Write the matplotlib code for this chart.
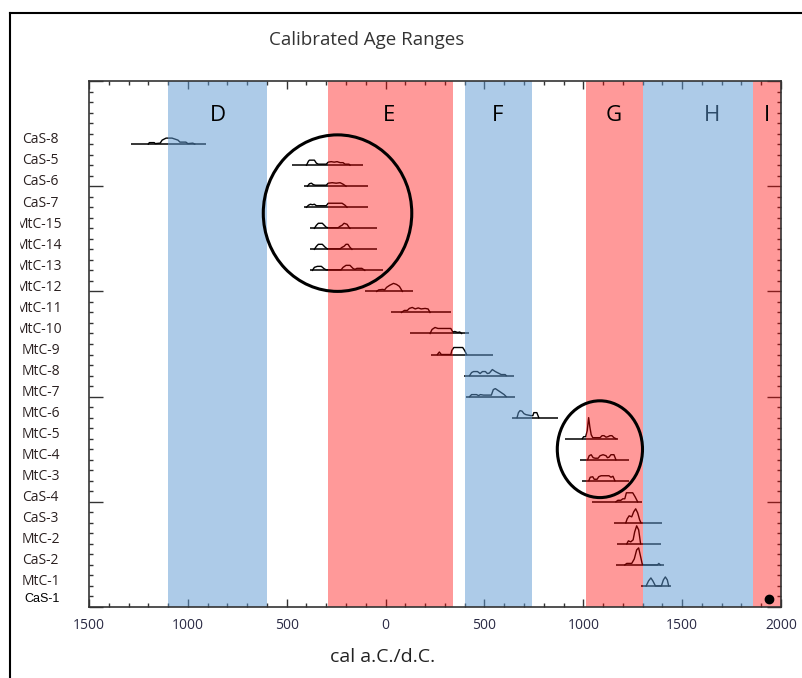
import numpy as np
import matplotlib.pyplot as plt
from matplotlib.patches import Ellipse, Rectangle
from matplotlib.lines import Line2D
from matplotlib.ticker import MultipleLocator, FixedLocator, FuncFormatter
import matplotlib.transforms as mtransforms

plt.rcParams['font.family'] = ['Open Sans', 'DejaVu Sans']

# samples, top to bottom
labels = ['CaS-8', 'CaS-5', 'CaS-6', 'CaS-7', 'MtC-15', 'MtC-14', 'MtC-13',
          'MtC-12', 'MtC-11', 'MtC-10', 'MtC-9', 'MtC-8', 'MtC-7', 'MtC-6',
          'MtC-5', 'MtC-4', 'MtC-3', 'CaS-4', 'CaS-3', 'MtC-2', 'CaS-2', 'MtC-1']

# calibrated range of each sample (negative = a.C.)
range_start = [-1286, -475, -411, -411, -383, -383, -383, -104, 28, 124, 229, 398,
               408, 639, 909, 985, 991, 1045, 1154, 1171, 1163, 1290]
range_end = [-906, -112, -90, -87, -42, -42, -13, 141, 330, 423, 541, 651,
             656, 870, 1174, 1230, 1230, 1295, 1396, 1391, 1408, 1443]

# probability outlines (year, relative height)
curves = [
    [(-1200, 0), (-1195, 1.5), (-1170, 1.5), (-1165, 0.5), (-1140, 1), (-1130, 4), (-1110, 6),
     (-1080, 6), (-1050, 4), (-1040, 2), (-1010, 2), (-1000, 0.5), (-975, 1), (-965, 0)],
    [(-400, 0), (-390, 4), (-385, 5), (-360, 5), (-350, 2), (-340, 1), (-300, 1), (-290, 3),
     (-275, 3.5), (-260, 3), (-245, 3.5), (-230, 2.5), (-215, 2.5), (-205, 1), (-185, 1), (-180, 0)],
    [(-395, 0), (-385, 2.5), (-375, 3), (-365, 1.5), (-355, 1), (-300, 1), (-290, 3), (-270, 3.5),
     (-250, 3), (-230, 3.5), (-215, 2), (-200, 0)],
    [(-400, 0), (-390, 2), (-380, 3), (-370, 2.5), (-360, 3), (-350, 1.5), (-300, 1.5), (-290, 4),
     (-220, 4), (-205, 2), (-195, 0)],
    [(-360, 0), (-350, 3), (-340, 5), (-320, 5), (-305, 2), (-300, 1), (-290, 0.5), (-240, 0.5),
     (-230, 2), (-220, 3), (-210, 5), (-195, 4), (-185, 1), (-180, 0)],
    [(-360, 0), (-350, 3), (-340, 5), (-320, 5), (-305, 2), (-295, 0.5), (-230, 0.5), (-220, 2),
     (-210, 3), (-200, 5), (-190, 5), (-180, 2), (-170, 0)],
    [(-370, 0), (-360, 3), (-345, 4), (-325, 4), (-310, 1.5), (-300, 0.5), (-225, 0.5), (-215, 3),
     (-200, 5), (-180, 5), (-165, 2), (-155, 1), (-145, 2), (-120, 2), (-105, 0)],
    [(-45, 0), (-35, 1.5), (-15, 2), (-5, 1.5), (5, 4), (20, 6), (40, 8), (55, 7), (70, 5), (85, 0)],
    [(80, 0), (95, 2), (110, 2), (120, 4), (135, 5), (150, 3.5), (165, 4.5), (180, 3.5), (200, 4),
     (215, 3.5), (225, 0)],
    [(225, 0), (235, 4), (250, 6), (265, 5), (330, 5), (340, 1.5), (350, 2), (365, 1), (375, 1.5),
     (385, 0)],
    [(262, 0), (272, 2.5), (282, 0), (330, 0), (335, 4), (345, 7), (390, 7), (400, 4), (410, 0)],
    [(425, 0), (435, 3), (445, 4), (465, 4), (478, 2), (490, 4), (505, 4), (515, 2), (525, 2.5),
     (540, 6), (555, 4), (570, 2.5), (585, 1), (605, 1), (610, 0)],
    [(425, 0), (435, 2), (460, 2), (470, 1), (480, 2), (495, 1.5), (535, 1.5), (545, 7), (555, 8),
     (570, 6), (585, 4), (600, 2), (610, 0)],
    [(665, 0), (672, 5), (680, 7), (690, 6.5), (700, 4), (710, 3), (735, 2), (745, 2), (750, 5),
     (765, 5), (775, 0)],
    [(995, 0), (1002, 2), (1012, 2), (1020, 8), (1027, 21), (1033, 12), (1040, 4), (1048, 1),
     (1085, 1), (1095, 3), (1105, 3), (1115, 1.5), (1125, 2), (1135, 3), (1145, 3), (1155, 1), (1165, 0)],
    [(1022, 0), (1030, 4), (1040, 5), (1050, 2), (1060, 1.5), (1075, 1.5), (1085, 4), (1100, 5),
     (1115, 4), (1122, 2), (1130, 2.5), (1140, 5), (1155, 5), (1165, 0)],
    [(1028, 0), (1035, 3.5), (1048, 4), (1055, 1.5), (1070, 1.5), (1078, 4), (1090, 5), (1130, 5),
     (1140, 3.5), (1150, 4.5), (1160, 0)],
    [(1165, 0), (1175, 1.5), (1190, 1.5), (1200, 3), (1210, 3), (1218, 9), (1250, 9), (1262, 5),
     (1275, 0)],
    [(1215, 0), (1222, 4), (1232, 7), (1245, 6), (1255, 11), (1265, 14), (1275, 10), (1285, 3),
     (1292, 0)],
    [(1220, 0), (1228, 3), (1240, 2), (1252, 4), (1260, 12), (1270, 18), (1280, 14), (1290, 0)],
    [(1210, 0), (1220, 1.5), (1245, 1.5), (1258, 6), (1270, 15), (1280, 17), (1288, 10), (1298, 1),
     (1305, 0), (1375, 0), (1382, 1.5), (1390, 0)],
    [(1318, 0), (1330, 5), (1342, 8), (1352, 5), (1365, 0), (1395, 0), (1405, 6), (1415, 9),
     (1425, 6), (1432, 0)],
]

# modern sample
modern_label = 'CaS-1'
modern_year = 1938

# period bands
band_letters = ['D', 'E', 'F', 'G', 'H', 'I']
band_start = [-1100, -290, 400, 1015, 1300, 1860]
band_end = [-600, 340, 740, 1300, 1860, 2000]
band_is_red = [False, True, False, True, False, True]
letter_x = [-850, 15, 565, 1155, 1650, 1930]

# highlighted groups (centre year, centre row, width in years, height in rows)
circle_x = [-243, 1084]
circle_row = [3.28, 14.5]
circle_w = [751, 431]
circle_h = [7.44, 4.6]

W, H = 802, 678
fig = plt.figure(figsize=(W / 100, H / 100), dpi=100)
ax = fig.add_axes([89 / W, 1 - 607 / H, 692 / W, 526 / H])
ax.set_xlim(-1500, 2000)
ax.set_ylim(22, -3)

dens_scale = 1 / 21.0
for i, lab in enumerate(labels):
    ax.plot([range_start[i], range_end[i]], [i, i], color='black', lw=1.1, zorder=1,
            solid_capstyle='butt')
    xs = [p[0] for p in curves[i]]
    hs = np.array([p[1] for p in curves[i]])
    ax.plot(xs, i - hs * dens_scale, color='black', lw=1.0, zorder=1)

modern_row = len(labels) - 0.4
ax.plot(modern_year, modern_row, 'o', color='black', ms=6, zorder=4)

for s, e, red in zip(band_start, band_end, band_is_red):
    if red:
        ax.axvspan(s, e, color='#ff0000', alpha=0.4, lw=0, zorder=2)
    else:
        ax.axvspan(s, e, color='#5d99d3', alpha=0.5, lw=0, zorder=2)

for x, letter in zip(letter_x, band_letters):
    z = 1 if letter == 'H' else 3
    ax.text(x, -1.38, letter, fontsize=16, ha='center', va='center', color='black', zorder=z)

for cx, cy, w, h in zip(circle_x, circle_row, circle_w, circle_h):
    ax.add_patch(Ellipse((cx, cy), w, h, fill=False, ec='black', lw=2.2, zorder=4))

# axes styling
ax.xaxis.set_major_locator(MultipleLocator(500))
ax.xaxis.set_minor_locator(MultipleLocator(100))
ax.yaxis.set_major_locator(FixedLocator(np.arange(-3, 23, 5)))
ax.yaxis.set_minor_locator(FixedLocator(np.arange(-3, 22.5, 0.5)))
ax.xaxis.set_major_formatter(FuncFormatter(lambda v, p: f'{abs(int(round(v)))}'))
ax.tick_params(which='both', direction='in', top=True, right=True, color='#333333', width=1.0)
ax.tick_params(axis='x', which='major', length=6, labelsize=10, labelcolor='#2b2b45', pad=8)
ax.tick_params(axis='y', which='major', length=10, labelleft=False)
ax.tick_params(which='minor', length=3)
for sp in ax.spines.values():
    sp.set_color('#333333')
    sp.set_linewidth(1.2)

# sample labels
trans = mtransforms.blended_transform_factory(fig.transFigure, ax.transData)
for i, lab in enumerate(labels):
    if len(lab) > 5 and lab.startswith('MtC'):
        ax.text(62 / W, i - 0.2, lab, transform=trans, ha='right', va='center',
                fontsize=10, color='#2a2020', clip_on=False)
    else:
        ax.text(22 / W, i - 0.2, lab, transform=trans, ha='left', va='center',
                fontsize=10, color='#2a2020', clip_on=False)
ax.text(24 / W, modern_row, modern_label, transform=trans, ha='left', va='center',
        fontsize=9, color='black', family='Liberation Sans', clip_on=False)

# crop of the long labels and outer frame
fig.add_artist(Rectangle((11 / W, 0), 7.5 / W, 1, transform=fig.transFigure,
                         color='white', zorder=5))
fig.add_artist(Line2D([10 / W, 10 / W], [0, 1 - 13 / H], transform=fig.transFigure,
                      color='black', lw=1.5, zorder=6))
fig.add_artist(Line2D([10 / W, 1], [1 - 13 / H, 1 - 13 / H], transform=fig.transFigure,
                      color='black', lw=1.5, zorder=6))

fig.text(367 / W, 1 - 40 / H, 'Calibrated Age Ranges', ha='center', va='center',
         fontsize=13.5, color='#333333')
fig.text(383 / W, 1 - 657 / H, 'cal a.C./d.C.', ha='center', va='center',
         fontsize=14, color='#222222')

fig.canvas.draw()
last = ax.get_xticklabels()[-1]
last.set_color('black')
last.set_family('Liberation Sans')

fig.savefig('out.png', dpi=100)
